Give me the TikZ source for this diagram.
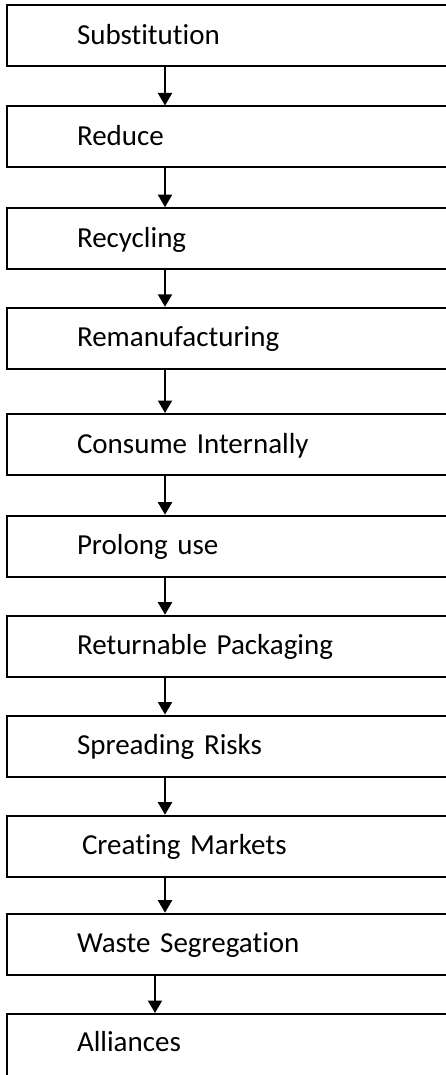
\documentclass[tikz,border=0pt]{standalone}
\usepackage{fontspec}
\setmainfont[Ligatures={NoCommon}]{Carlito}
\usetikzlibrary{arrows.meta}

\begin{document}
\begin{tikzpicture}[x=1pt, y=-1pt,
    stepbox/.style={rectangle, draw, line width=2pt, minimum height=61pt,
        text width=300pt, inner xsep=70pt, align=left,
        text height=22pt, text depth=5pt,
        font=\fontsize{29}{34}\selectfont},
    flow/.style={line width=2pt, -{Triangle[width=14pt, length=12.5pt]}}]
    \useasboundingbox (0,0) rectangle (445,1075);

    \node[stepbox](s1)  at (227,   35.8) {Substitution};
    \node[stepbox](s2)  at (227,  137.0) {Reduce};
    \node[stepbox](s3)  at (227,  238.7) {Recycling};
    \node[stepbox](s4)  at (227,  338.3) {Remanufacturing};
    \node[stepbox](s5)  at (227,  444.5) {Consume Internally};
    \node[stepbox](s6)  at (227,  546.2) {Prolong use};
    \node[stepbox](s7)  at (227,  646.2) {Returnable Packaging};
    \node[stepbox](s8)  at (227,  746.0) {Spreading Risks};
    \node[stepbox](s9)  at (227,  846.2) {\hspace{5pt}Creating Markets};
    \node[stepbox](s10) at (227,  944.2) {Waste Segregation};
    % last box runs off the bottom edge
    \node[stepbox, minimum height=72pt, text depth=19pt](s11) at (227, 1050) {Alliances};

    \draw[flow] ([xshift=159pt]s1.south west) -- ([xshift=159pt]s2.north west);
    \draw[flow] ([xshift=159pt]s2.south west) -- ([xshift=159pt]s3.north west);
    \draw[flow] ([xshift=159pt]s3.south west) -- ([xshift=159pt]s4.north west);
    \draw[flow] ([xshift=159pt]s4.south west) -- ([xshift=159pt]s5.north west);
    \draw[flow] ([xshift=159pt]s5.south west) -- ([xshift=159pt]s6.north west);
    \draw[flow] ([xshift=159pt]s6.south west) -- ([xshift=159pt]s7.north west);
    \draw[flow] ([xshift=159pt]s7.south west) -- ([xshift=159pt]s8.north west);
    \draw[flow] ([xshift=159pt]s8.south west) -- ([xshift=159pt]s9.north west);
    \draw[flow] ([xshift=159pt]s9.south west) -- ([xshift=159pt]s10.north west);
    \draw[flow] ([xshift=149pt]s10.south west) -- ([xshift=149pt]s11.north west);
\end{tikzpicture}
\end{document}
